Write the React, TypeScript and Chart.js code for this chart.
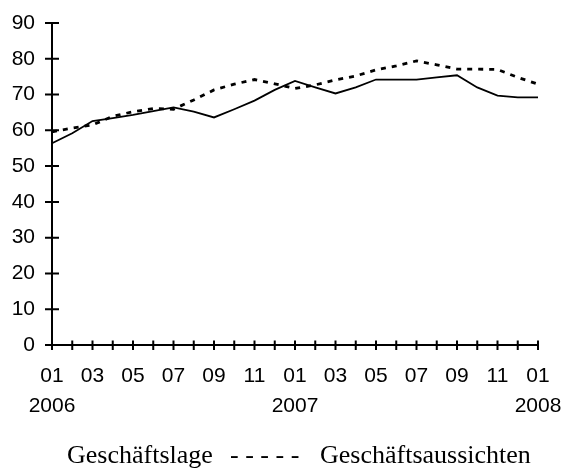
import React, { useEffect, useRef } from "react";
import { Chart, registerables } from "chart.js";

Chart.register(...registerables);

// Monthly categories 01/2006 .. 01/2008
const months = ["01","02","03","04","05","06","07","08","09","10","11","12","01","02","03","04","05","06","07","08","09","10","11","12","01"];
const years = ["2006","2006","2006","2006","2006","2006","2006","2006","2006","2006","2006","2006","2007","2007","2007","2007","2007","2007","2007","2007","2007","2007","2007","2007","2008"];
const categories = months.map((m, i) => m + "/" + years[i]);

const geschaeftslage = [56.4, 59.2, 62.6, 63.4, 64.3, 65.4, 66.4, 65.2, 63.6, 65.9, 68.3, 71.3, 73.8, 72.0, 70.3, 72.0, 74.2, 74.2, 74.2, 74.8, 75.4, 72.0, 69.7, 69.2, 69.2];
const geschaeftsaussichten = [59.6, 60.6, 61.5, 63.9, 65.2, 66.1, 65.9, 68.5, 71.3, 72.9, 74.2, 73.0, 71.7, 72.7, 74.1, 75.2, 76.9, 78.0, 79.4, 78.3, 77.1, 77.1, 77.0, 74.8, 72.9];

const yTicks = [0, 10, 20, 30, 40, 50, 60, 70, 80, 90];
const legendLabels = ["Geschäftslage", "- - - - -", "Geschäftsaussichten"];

const SANS = "'Liberation Sans', Arial, sans-serif";
const SERIF = "'Liberation Serif', 'Times New Roman', serif";

const axisPlugin = {
  id: "crossAxes",
  afterDraw(chart: any) {
    const ctx = chart.ctx;
    const x = chart.scales.x;
    const y = chart.scales.y;
    const left = x.getPixelForValue(0);
    const right = x.getPixelForValue(categories.length - 1);
    const top = y.getPixelForValue(yTicks[yTicks.length - 1]);
    const bottom = y.getPixelForValue(0);
    ctx.save();
    ctx.strokeStyle = "#000";
    ctx.lineWidth = 2;
    ctx.beginPath();
    ctx.moveTo(left, top);
    ctx.lineTo(left, bottom);
    ctx.moveTo(left, bottom);
    ctx.lineTo(right, bottom);
    for (const v of yTicks) {
      const py = y.getPixelForValue(v);
      ctx.moveTo(left - 7, py);
      ctx.lineTo(left + 7, py);
    }
    for (let i = 0; i < categories.length; i++) {
      const px = x.getPixelForValue(i);
      ctx.moveTo(px, bottom - 4.5);
      ctx.lineTo(px, bottom + 5);
    }
    ctx.stroke();
    ctx.restore();
  },
};

export default function App() {
  const ref = useRef<HTMLCanvasElement | null>(null);
  useEffect(() => {
    if (!ref.current) return;
    const chart = new Chart(ref.current, {
      type: "line",
      data: {
        labels: categories,
        datasets: [
          {
            label: legendLabels[0],
            data: geschaeftslage,
            borderColor: "#000",
            borderWidth: 1.8,
            pointRadius: 0,
            tension: 0,
            fill: false,
          },
          {
            label: legendLabels[2],
            data: geschaeftsaussichten,
            borderColor: "#000",
            borderWidth: 2.8,
            borderDash: [5, 6],
            pointRadius: 0,
            tension: 0,
            fill: false,
          },
        ],
      },
      options: {
        animation: false,
        responsive: false,
        layout: { padding: { top: 23, right: 23, left: 0, bottom: 0 } },
        plugins: { legend: { display: false }, tooltip: { enabled: false } },
        scales: {
          x: {
            type: "category",
            offset: false,
            grid: { display: false, drawTicks: false },
            border: { display: false },
            ticks: {
              autoSkip: false,
              maxRotation: 0,
              minRotation: 0,
              padding: 16,
              color: "#000",
              font: { family: SANS, size: 21, lineHeight: 1.43 },
              callback: (_v: any, i: number) => {
                if (i % 2 === 1) return "";
                if (months[i] === "01") return [months[i], years[i]];
                return months[i];
              },
            },
            afterFit: (s: any) => {
              s.height = 123;
              s.paddingLeft = 0;
              s.paddingRight = 0;
            },
          },
          y: {
            min: 0,
            max: 90,
            grid: { display: false, drawTicks: false },
            border: { display: false },
            ticks: {
              stepSize: 10,
              padding: 17,
              color: "#000",
              font: { family: SANS, size: 21 },
            },
            afterFit: (s: any) => {
              s.width = 52;
              s.paddingTop = 0;
              s.paddingBottom = 0;
            },
          },
        },
      },
      plugins: [axisPlugin],
    });
    return () => chart.destroy();
  }, []);

  const legendStyle: React.CSSProperties = {
    position: "absolute",
    top: 442,
    fontFamily: SERIF,
    fontSize: 26,
    lineHeight: "26px",
    color: "#000",
    whiteSpace: "pre",
  };

  return (
    <div style={{ position: "absolute", left: 0, top: 0, width: 561, height: 468, background: "#fff", overflow: "hidden" }}>
      <canvas ref={ref} width={561} height={468} style={{ position: "absolute", left: 0, top: 0, width: 561, height: 468 }} />
      <span style={{ ...legendStyle, left: 67 }}>{legendLabels[0]}</span>
      <span style={{ ...legendStyle, left: 230 }}>{legendLabels[1]}</span>
      <span style={{ ...legendStyle, left: 320 }}>{legendLabels[2]}</span>
    </div>
  );
}
